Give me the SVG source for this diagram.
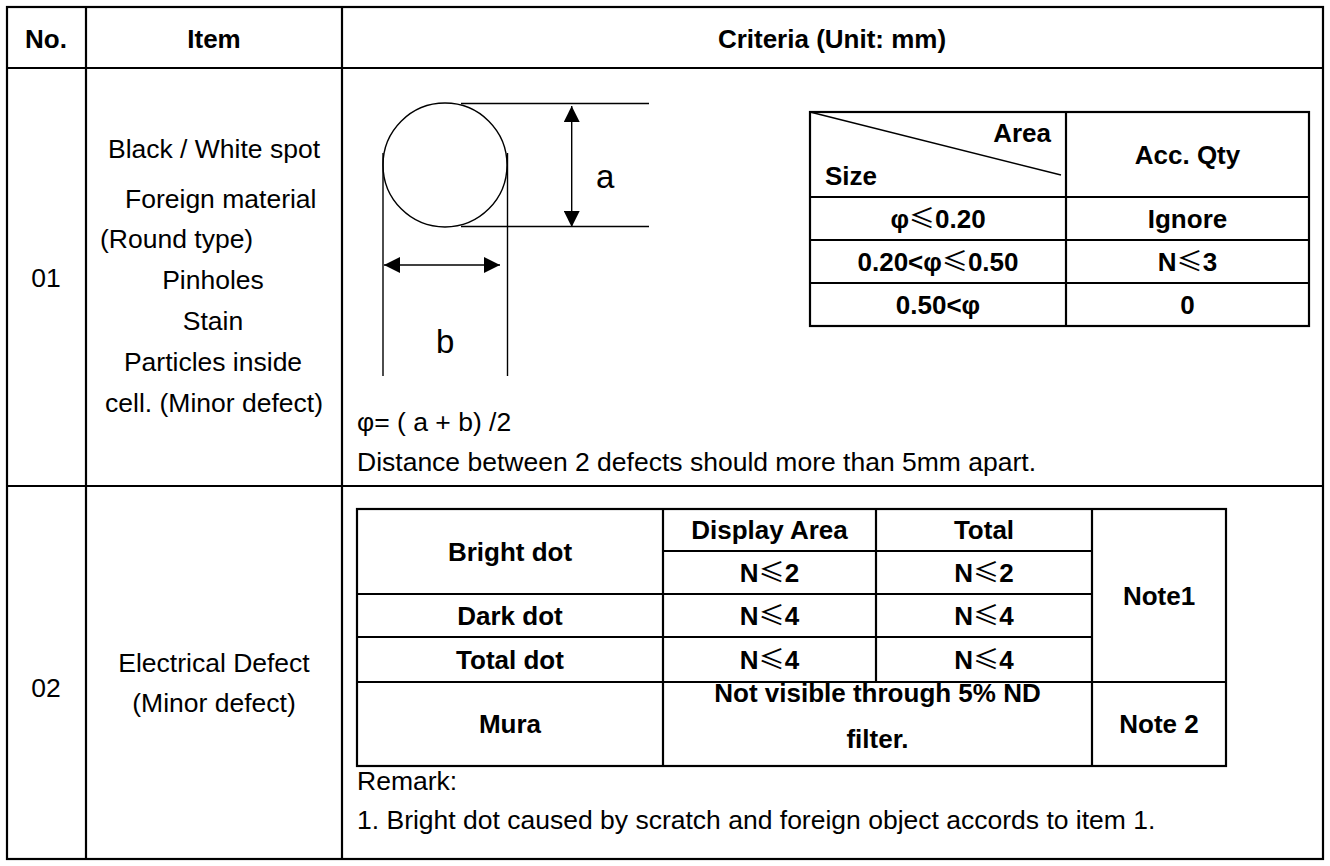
<svg xmlns="http://www.w3.org/2000/svg" width="1330" height="866" viewBox="0 0 1330 866">
<style>
.t{font-family:"Liberation Sans",Arial,sans-serif;font-size:26.5px;fill:#000}
.b{font-weight:bold;font-size:26px}
.m{text-anchor:middle}
.e{text-anchor:end}
.le{font-family:"Noto Sans CJK SC","DejaVu Sans",sans-serif;font-weight:normal}
.g{stroke:#000;stroke-width:2.2;fill:none}
.th{stroke:#000;stroke-width:1.4;fill:none}
.big{font-size:33px}
</style>
<defs>
<marker id="ah" viewBox="0 0 16 16" refX="16" refY="8" markerWidth="16" markerHeight="16" markerUnits="userSpaceOnUse" orient="auto-start-reverse"><path d="M0,0 L16,8 L0,16 z" fill="#000"/></marker>
</defs>
<rect width="1330" height="866" fill="#fff"/>

<g id="main-table">
<rect class="g" x="7" y="7" width="1316" height="852"/>
<line class="g" x1="7" y1="68" x2="1323" y2="68"/>
<line class="g" x1="7" y1="486" x2="1323" y2="486"/>
<line class="g" x1="86" y1="7" x2="86" y2="859"/>
<line class="g" x1="342" y1="7" x2="342" y2="859"/>
<text class="t b m" x="46" y="48">No.</text>
<text class="t b m" x="214" y="48">Item</text>
<text class="t b m" x="832" y="48">Criteria (Unit: mm)</text>
</g>

<g id="row-01">
<text class="t m" x="46" y="287">01</text>
<text class="t m" x="214" y="158">Black / White spot</text>
<text class="t" x="125" y="208">Foreign material</text>
<text class="t" x="100" y="248">(Round type)</text>
<text class="t m" x="213" y="289">Pinholes</text>
<text class="t m" x="213" y="330">Stain</text>
<text class="t m" x="213" y="371">Particles inside</text>
<text class="t m" x="214" y="412">cell. (Minor defect)</text>
</g>

<g id="spot-figure">
<circle class="th" cx="445" cy="165" r="62"/>
<line class="th" x1="461" y1="103.5" x2="649" y2="103.5"/>
<line class="th" x1="461" y1="226.5" x2="649" y2="226.5"/>
<line class="th" x1="383" y1="153" x2="383" y2="376"/>
<line class="th" x1="507.5" y1="153" x2="507.5" y2="376"/>
<text class="t big" x="596" y="188">a</text>
<text class="t big" x="436" y="353">b</text>
</g>

<g id="connectors">
<line class="th" x1="571.7" y1="106" x2="571.7" y2="227" marker-start="url(#ah)" marker-end="url(#ah)"/>
<line class="th" x1="384" y1="265" x2="500" y2="265" marker-start="url(#ah)" marker-end="url(#ah)"/>
</g>

<g id="size-table">
<rect class="g" x="810" y="112" width="499" height="214"/>
<line class="g" x1="1066" y1="112" x2="1066" y2="326"/>
<line class="g" x1="810" y1="197" x2="1309" y2="197"/>
<line class="g" x1="810" y1="240" x2="1309" y2="240"/>
<line class="g" x1="810" y1="283" x2="1309" y2="283"/>
<line class="th" x1="810" y1="112" x2="1061" y2="175"/>
<text class="t b e" x="1051" y="142">Area</text>
<text class="t b" x="825" y="185">Size</text>
<text class="t b m" x="1187.5" y="164">Acc. Qty</text>
<text class="t b m" x="938" y="228">φ<tspan class="le">≤</tspan>0.20</text>
<text class="t b m" x="1187.5" y="228">Ignore</text>
<text class="t b m" x="938" y="271">0.20&lt;φ<tspan class="le">≤</tspan>0.50</text>
<text class="t b m" x="1187.5" y="271">N<tspan class="le">≤</tspan>3</text>
<text class="t b m" x="938" y="314">0.50&lt;φ</text>
<text class="t b m" x="1187.5" y="314">0</text>
</g>

<g id="row-01-notes">
<text class="t" x="357" y="431">φ= ( a + b) /2</text>
<text class="t" x="357" y="471">Distance between 2 defects should more than 5mm apart.</text>
</g>

<g id="row-02">
<text class="t m" x="46" y="697">02</text>
<text class="t m" x="214" y="672">Electrical Defect</text>
<text class="t m" x="214" y="712">(Minor defect)</text>
</g>

<g id="defect-table">
<rect class="g" x="357" y="509" width="869" height="257"/>
<line class="g" x1="663" y1="509" x2="663" y2="766"/>
<line class="g" x1="876" y1="509" x2="876" y2="682"/>
<line class="g" x1="1092" y1="509" x2="1092" y2="766"/>
<line class="g" x1="663" y1="551" x2="1092" y2="551"/>
<line class="g" x1="357" y1="594" x2="1092" y2="594"/>
<line class="g" x1="357" y1="637" x2="1092" y2="637"/>
<line class="g" x1="357" y1="682" x2="1226" y2="682"/>
<text class="t b m" x="510" y="561">Bright dot</text>
<text class="t b m" x="769.5" y="539">Display Area</text>
<text class="t b m" x="984" y="539">Total</text>
<text class="t b m" x="769.5" y="582">N<tspan class="le">≤</tspan>2</text>
<text class="t b m" x="984" y="582">N<tspan class="le">≤</tspan>2</text>
<text class="t b m" x="1159" y="605">Note1</text>
<text class="t b m" x="510" y="625">Dark dot</text>
<text class="t b m" x="769.5" y="625">N<tspan class="le">≤</tspan>4</text>
<text class="t b m" x="984" y="625">N<tspan class="le">≤</tspan>4</text>
<text class="t b m" x="510" y="669">Total dot</text>
<text class="t b m" x="769.5" y="669">N<tspan class="le">≤</tspan>4</text>
<text class="t b m" x="984" y="669">N<tspan class="le">≤</tspan>4</text>
<text class="t b m" x="510" y="733">Mura</text>
<text class="t b m" x="877.5" y="702">Not visible through 5% ND</text>
<text class="t b m" x="877.5" y="748">filter.</text>
<text class="t b m" x="1159" y="733">Note 2</text>
</g>

<g id="remarks">
<text class="t" x="357" y="790">Remark:</text>
<text class="t" x="357" y="829">1. Bright dot caused by scratch and foreign object accords to item 1.</text>
</g>
</svg>
